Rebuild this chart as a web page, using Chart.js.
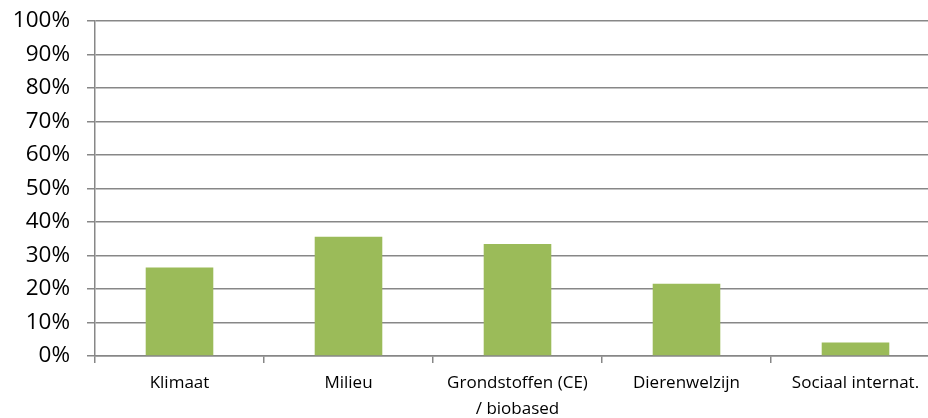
<!DOCTYPE html>
<html>
<head>
<meta charset="utf-8">
<script src="https://cdn.jsdelivr.net/npm/chart.js@4/dist/chart.umd.min.js"></script>
<style>
  html, body { margin: 0; padding: 0; background: #fff; overflow: hidden; }
  #wrap { width: 940px; height: 418px; }
</style>
</head>
<body>
<div id="wrap"><canvas id="myChart" width="940" height="418"></canvas></div>
<script>
// categories and values
const categories = ['Klimaat', 'Milieu', ['Grondstoffen (CE)', '/ biobased'], 'Dierenwelzijn', 'Sociaal internat.'];
const shares = [26.4, 35.6, 33.4, 21.6, 4.0];
const yTicks = [0, 10, 20, 30, 40, 50, 60, 70, 80, 90, 100];

const gridGrey = '#878787';

const ctx = document.getElementById('myChart').getContext('2d');
const myChart = new Chart(ctx, {
    type: 'bar',
    data: {
        labels: categories,
        datasets: [{
            data: shares,
            backgroundColor: '#9bbb59',
            borderWidth: 0,
            categoryPercentage: 0.4,
            barPercentage: 1
        }]
    },
    options: {
        responsive: false,
        animation: false,
        layout: { padding: { top: 21, left: 0, right: 0, bottom: 0 } },
        plugins: { legend: { display: false }, tooltip: { enabled: false } },
        scales: {
            x: {
                offset: true,
                grid: {
                    offset: true,
                    drawOnChartArea: false,
                    drawTicks: true,
                    tickLength: 7,
                    color: gridGrey,
                    lineWidth: 1.5
                },
                border: { color: gridGrey, width: 1.5 },
                ticks: {
                    color: '#000',
                    font: { family: 'Open Sans', size: 17, lineHeight: 1.55 },
                    maxRotation: 0,
                    autoSkip: false,
                    padding: 7
                },
                afterFit: function (scale) { scale.height = 62; }
            },
            y: {
                min: 0,
                max: 100,
                afterBuildTicks: function (scale) {
                    scale.ticks = yTicks.map(function (v) { return { value: v }; });
                },
                grid: {
                    color: gridGrey,
                    lineWidth: 1.5,
                    tickLength: 8
                },
                border: { color: gridGrey, width: 1.5 },
                ticks: {
                    color: '#000',
                    font: { family: 'Open Sans', size: 22.5 },
                    padding: 17,
                    callback: function (v) { return v + '%'; }
                },
                afterFit: function (scale) {
                    scale.width = 95;
                    scale.paddingTop = 0;
                }
            }
        }
    }
});
</script>
</body>
</html>
